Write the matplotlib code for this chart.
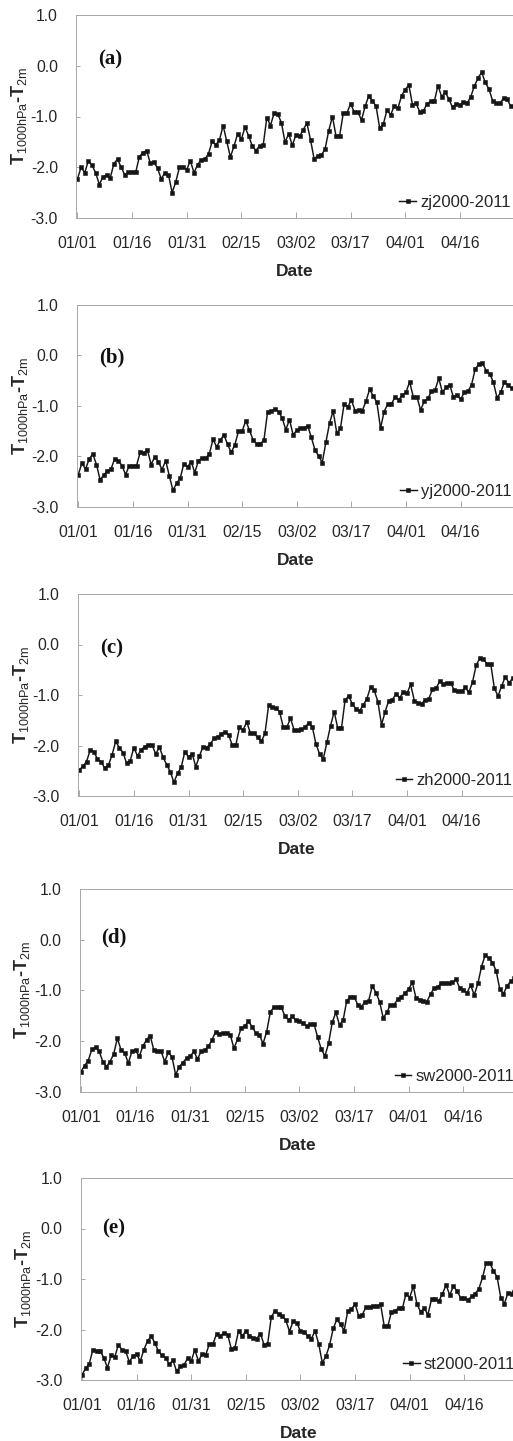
import numpy as np
import matplotlib
matplotlib.use('Agg')
import matplotlib.pyplot as plt
from matplotlib.ticker import FormatStrFormatter

plt.rcParams['font.family'] = ['Liberation Sans', 'DejaVu Sans']
plt.rcParams['axes.unicode_minus'] = False
plt.rcParams['mathtext.fontset'] = 'custom'
plt.rcParams['mathtext.rm'] = 'Liberation Sans'
plt.rcParams['mathtext.bf'] = 'Liberation Sans:bold'

# ---------------- data ----------------
days = np.arange(120)
tick_days = [0, 15, 30, 45, 60, 75, 90, 105]
tick_labels = ['01/01', '01/16', '01/31', '02/15', '03/02', '03/17', '04/01', '04/16']
y_ticks = [1.0, 0.0, -1.0, -2.0, -3.0]

zj = [-2.23, -2.00, -2.11, -1.87, -1.96, -2.11, -2.34, -2.19, -2.15, -2.21,
      -1.93, -1.84, -2.00, -2.15, -2.10, -2.10, -2.10, -1.79, -1.71, -1.67,
      -1.92, -1.90, -2.02, -2.23, -2.11, -2.15, -2.50, -2.29, -2.00, -2.00,
      -2.05, -1.87, -2.11, -1.95, -1.85, -1.84, -1.73, -1.49, -1.56, -1.46,
      -1.18, -1.49, -1.80, -1.58, -1.34, -1.45, -1.21, -1.38, -1.58, -1.67,
      -1.58, -1.57, -1.02, -1.18, -0.93, -0.95, -1.12, -1.51, -1.34, -1.57,
      -1.36, -1.39, -1.26, -1.13, -1.46, -1.84, -1.77, -1.76, -1.64, -1.28,
      -1.00, -1.38, -1.38, -0.93, -0.93, -0.75, -0.91, -0.91, -1.07, -0.80,
      -0.59, -0.69, -0.80, -1.23, -1.15, -0.87, -0.97, -0.79, -0.84, -0.59,
      -0.47, -0.38, -0.77, -0.74, -0.91, -0.89, -0.75, -0.70, -0.70, -0.39,
      -0.61, -0.52, -0.66, -0.82, -0.75, -0.77, -0.72, -0.74, -0.61, -0.40,
      -0.24, -0.13, -0.33, -0.46, -0.69, -0.73, -0.74, -0.64, -0.66, -0.80]

yj = [-2.36, -2.13, -2.25, -2.05, -1.95, -2.16, -2.46, -2.37, -2.28, -2.25,
      -2.04, -2.08, -2.18, -2.36, -2.18, -2.18, -2.18, -1.92, -1.93, -1.87,
      -2.16, -2.01, -2.10, -2.26, -2.08, -2.38, -2.67, -2.53, -2.43, -2.14,
      -2.21, -2.10, -2.32, -2.08, -2.03, -2.03, -1.95, -1.66, -1.81, -1.68,
      -1.57, -1.76, -1.92, -1.77, -1.50, -1.50, -1.29, -1.48, -1.67, -1.75,
      -1.75, -1.67, -1.11, -1.10, -1.06, -1.11, -1.24, -1.47, -1.27, -1.57,
      -1.48, -1.43, -1.43, -1.39, -1.62, -1.87, -1.99, -2.12, -1.72, -1.34,
      -1.10, -1.54, -1.44, -0.96, -1.02, -0.88, -1.09, -1.08, -1.09, -0.91,
      -0.67, -0.80, -0.93, -1.44, -1.11, -0.96, -0.96, -0.82, -0.88, -0.78,
      -0.73, -0.52, -0.82, -0.82, -1.08, -0.91, -0.85, -0.71, -0.68, -0.45,
      -0.73, -0.63, -0.58, -0.82, -0.78, -0.87, -0.73, -0.71, -0.58, -0.27,
      -0.17, -0.15, -0.30, -0.36, -0.53, -0.84, -0.73, -0.53, -0.58, -0.65]

zh = [-2.49, -2.41, -2.32, -2.09, -2.12, -2.27, -2.32, -2.45, -2.39, -2.19,
      -1.92, -2.04, -2.14, -2.35, -2.30, -2.04, -2.21, -2.08, -2.02, -1.99,
      -1.99, -2.17, -2.03, -2.23, -2.38, -2.52, -2.73, -2.55, -2.43, -2.12,
      -2.23, -2.16, -2.42, -2.21, -2.02, -2.04, -1.97, -1.86, -1.83, -1.77,
      -1.73, -1.79, -1.99, -1.99, -1.64, -1.69, -1.53, -1.76, -1.76, -1.84,
      -1.92, -1.76, -1.20, -1.24, -1.26, -1.33, -1.63, -1.64, -1.46, -1.69,
      -1.69, -1.68, -1.64, -1.55, -1.63, -1.97, -2.17, -2.27, -1.94, -1.61,
      -1.33, -1.66, -1.66, -1.10, -1.02, -1.18, -1.28, -1.31, -1.20, -1.07,
      -0.84, -0.91, -1.13, -1.59, -1.33, -1.11, -1.09, -0.98, -1.05, -0.95,
      -0.97, -0.79, -1.11, -1.15, -1.17, -1.10, -1.07, -0.89, -0.87, -0.72,
      -0.78, -0.76, -0.76, -0.91, -0.93, -0.93, -0.85, -0.95, -0.74, -0.41,
      -0.27, -0.29, -0.39, -0.39, -0.87, -1.02, -0.82, -0.64, -0.76, -0.67]

sw = [-2.60, -2.48, -2.38, -2.16, -2.12, -2.20, -2.40, -2.50, -2.40, -2.25,
      -1.94, -2.17, -2.23, -2.43, -2.20, -2.18, -2.30, -2.10, -1.97, -1.89,
      -2.17, -2.20, -2.20, -2.40, -2.22, -2.31, -2.66, -2.50, -2.42, -2.33,
      -2.30, -2.20, -2.35, -2.20, -2.17, -2.10, -1.97, -1.81, -1.85, -1.84,
      -1.83, -1.87, -2.14, -1.96, -1.74, -1.70, -1.61, -1.71, -1.84, -1.87,
      -2.05, -1.81, -1.43, -1.32, -1.32, -1.33, -1.50, -1.58, -1.51, -1.59,
      -1.61, -1.64, -1.70, -1.66, -1.66, -1.92, -2.16, -2.29, -2.04, -1.63,
      -1.43, -1.68, -1.58, -1.20, -1.12, -1.12, -1.28, -1.32, -1.22, -1.20,
      -0.91, -1.04, -1.22, -1.54, -1.43, -1.28, -1.28, -1.17, -1.12, -1.05,
      -0.97, -0.84, -1.15, -1.18, -1.20, -1.22, -1.07, -0.95, -0.93, -0.85,
      -0.85, -0.85, -0.84, -0.78, -0.95, -0.99, -1.05, -0.89, -1.09, -0.86,
      -0.53, -0.30, -0.36, -0.45, -0.61, -0.97, -1.07, -0.91, -0.82, -0.76]

st = [-2.90, -2.77, -2.68, -2.40, -2.43, -2.42, -2.56, -2.76, -2.51, -2.55,
      -2.30, -2.40, -2.43, -2.64, -2.53, -2.48, -2.63, -2.40, -2.23, -2.13,
      -2.26, -2.43, -2.51, -2.56, -2.69, -2.61, -2.83, -2.73, -2.71, -2.57,
      -2.63, -2.40, -2.63, -2.48, -2.50, -2.28, -2.28, -2.08, -2.13, -2.06,
      -2.10, -2.38, -2.36, -2.03, -2.13, -2.03, -2.13, -2.16, -2.18, -2.08,
      -2.30, -2.28, -1.75, -1.63, -1.69, -1.73, -1.82, -2.04, -1.83, -1.87,
      -2.03, -2.04, -2.13, -2.18, -2.03, -2.28, -2.66, -2.53, -2.31, -1.98,
      -1.80, -1.90, -2.02, -1.63, -1.60, -1.49, -1.73, -1.71, -1.55, -1.55,
      -1.54, -1.54, -1.50, -1.93, -1.93, -1.65, -1.63, -1.57, -1.58, -1.29,
      -1.37, -1.14, -1.50, -1.65, -1.58, -1.71, -1.40, -1.40, -1.44, -1.29,
      -1.12, -1.32, -1.14, -1.24, -1.37, -1.37, -1.42, -1.34, -1.29, -1.19,
      -0.97, -0.68, -0.68, -0.84, -0.96, -1.37, -1.49, -1.27, -1.29, -1.14]

series = [zj, yj, zh, sw, st]
series_names = ['zj2000-2011', 'yj2000-2011', 'zh2000-2011', 'sw2000-2011', 'st2000-2011']
panel_tags = ['(a)', '(b)', '(c)', '(d)', '(e)']

# ---------------- layout (pixels) ----------------
W, H = 513, 1441
# (left, top, bottom, tag_y in axes fraction)
geom = [(76.0, 15.0, 218.0, 0.78),
        (76.8, 305.0, 507.0, 0.74),
        (77.8, 594.0, 796.0, 0.73),
        (79.5, 889.0, 1092.0, 0.76),
        (80.5, 1178.0, 1380.0, 0.75)]
width_px = 437.0

fig = plt.figure(figsize=(W / 100, H / 100), dpi=100)
spine_col = '#a8a8a8'
text_col = '#262626'

ylabel = r'$\mathbf{T}_{\mathrm{1000hPa}}$-$\mathbf{T}_{\mathrm{2m}}$'

for vals, name, tag, (l, t, b, tag_y) in zip(series, series_names, panel_tags, geom):
    ax = fig.add_axes([l / W, 1 - b / H, width_px / W, (b - t) / H])
    ax.plot(days, vals, '-', color='#151515', lw=1.05, marker='s',
            markersize=3.4, markeredgewidth=0.4, label=name)
    ax.set_xlim(-0.4, 119.6)
    ax.set_ylim(-3.0, 1.0)
    ax.set_xticks(tick_days)
    ax.set_xticklabels(tick_labels)
    ax.set_yticks(y_ticks)
    ax.yaxis.set_major_formatter(FormatStrFormatter('%.1f'))
    for s in ['left', 'bottom', 'top']:
        ax.spines[s].set_color(spine_col)
        ax.spines[s].set_linewidth(0.7)
    ax.spines['right'].set_visible(False)
    ax.tick_params(axis='x', direction='in', length=4, width=0.7, color=spine_col,
                   labelsize=11.3, pad=13, labelcolor=text_col)
    ax.tick_params(axis='y', direction='in', length=3, width=0.7, color=spine_col,
                   labelsize=11.3, pad=13, labelcolor=text_col)
    ax.set_xlabel('Date', fontsize=12.5, fontweight='bold', color=text_col, labelpad=9)
    ax.set_ylabel(ylabel, fontsize=13, fontweight='bold', color=text_col)
    ax.yaxis.set_label_coords(-0.108, 0.5)
    ax.text(0.05, tag_y, tag, transform=ax.transAxes, fontsize=15,
            fontweight='bold', family=['Liberation Serif', 'DejaVu Serif'],
            va='center', ha='left', color='#111111')
    leg = ax.legend(loc='lower right', bbox_to_anchor=(0.995, 0.04), frameon=False,
                    fontsize=12, handlelength=1.0, handletextpad=0.25,
                    borderaxespad=0, borderpad=0, numpoints=1)
    for txt in leg.get_texts():
        txt.set_color(text_col)

fig.savefig('out.png', dpi=100)
